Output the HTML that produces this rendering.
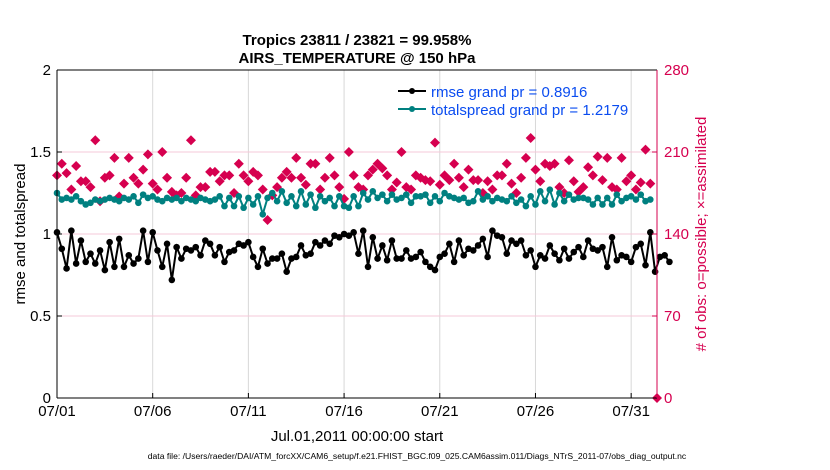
<!DOCTYPE html>
<html><head><meta charset="utf-8"><style>
body{margin:0;background:#fff;}
svg{display:block;font-family:"Liberation Sans",sans-serif;}
</style></head><body>
<svg id="chart" width="830" height="470" viewBox="0 0 830 470">
<text x="357" y="45" text-anchor="middle" font-size="15" font-weight="bold">Tropics 23811 / 23821 = 99.958%</text>
<text x="357" y="63" text-anchor="middle" font-size="15" font-weight="bold">AIRS_TEMPERATURE @ 150 hPa</text>
<g id="grid"></g>
<g id="marks"></g>
<g id="axes"></g>
<text transform="translate(25,234) rotate(-90)" text-anchor="middle" font-size="15">rmse and totalspread</text>
<text transform="translate(706,234) rotate(-90)" text-anchor="middle" font-size="15" fill="#d6004f"># of obs: o=possible; ×=assimilated</text>
<text x="357" y="441" text-anchor="middle" font-size="15">Jul.01,2011 00:00:00 start</text>
<text x="417" y="459" text-anchor="middle" font-size="8.6">data file: /Users/raeder/DAI/ATM_forcXX/CAM6_setup/f.e21.FHIST_BGC.f09_025.CAM6assim.011/Diags_NTrS_2011-07/obs_diag_output.nc</text>
<g>
<line x1="398" y1="91" x2="426" y2="91" stroke="#000" stroke-width="2"/><circle cx="412" cy="91" r="3" fill="#000"/>
<text x="431" y="97" font-size="15" fill="#0a4cf0">rmse grand pr = 0.8916</text>
<line x1="398" y1="109" x2="426" y2="109" stroke="#008080" stroke-width="2"/><circle cx="412" cy="109" r="3" fill="#008080"/>
<text x="431" y="115" font-size="15" fill="#0a4cf0">totalspread grand pr = 1.2179</text>
</g>
</svg>
<script>
const xTickLabels=["07/01","07/06","07/11","07/16","07/21","07/26","07/31"];
const xTickDays=[0,5,10,15,20,25,30];
const yTicks=[0,0.5,1,1.5,2];
const y2Ticks=[0,70,140,210,280];
const rmse=[1.01,0.91,0.79,1.02,0.82,0.96,0.83,0.88,0.82,0.90,0.78,0.95,0.80,0.97,0.80,0.87,0.82,0.85,1.02,0.83,1.01,0.90,0.80,0.94,0.72,0.92,0.85,0.91,0.90,0.92,0.87,0.96,0.94,0.87,0.92,0.83,0.89,0.90,0.94,0.93,0.95,0.86,0.80,0.91,0.82,0.85,0.85,0.88,0.77,0.85,0.86,0.93,0.87,0.88,0.95,0.93,0.96,0.94,0.99,0.98,1.00,0.99,
1.01,0.88,1.02,0.80,0.98,0.85,0.93,0.84,0.96,0.85,0.85,0.90,0.85,0.86,0.89,0.83,0.80,0.78,0.86,0.88,0.94,0.83,0.96,0.87,0.91,0.90,0.93,0.97,0.86,1.02,0.99,0.98,0.88,0.96,0.94,0.96,0.87,0.90,0.80,0.87,0.85,0.93,0.88,0.84,0.91,0.85,0.89,0.92,0.86,0.96,0.91,0.90,0.92,0.80,0.98,0.84,0.87,0.86,0.83,0.92,0.94,0.81,1.01,0.77,0.86,0.87,0.83];
const spread=[1.25,1.21,1.22,1.21,1.23,1.20,1.18,1.19,1.21,1.20,1.21,1.22,1.21,1.20,1.22,1.21,1.23,1.19,1.24,1.22,1.23,1.21,1.20,1.22,1.21,1.22,1.20,1.22,1.21,1.20,1.22,1.21,1.20,1.21,1.23,1.17,1.22,1.17,1.23,1.16,1.22,1.18,1.23,1.12,1.22,1.25,1.20,1.26,1.19,1.23,1.17,1.26,1.18,1.24,1.16,1.23,1.20,1.22,1.17,1.23,1.17,1.16,
1.23,1.17,1.25,1.21,1.26,1.22,1.24,1.20,1.24,1.21,1.22,1.24,1.19,1.23,1.23,1.24,1.19,1.23,1.20,1.25,1.23,1.22,1.21,1.22,1.19,1.20,1.26,1.21,1.23,1.20,1.22,1.21,1.20,1.23,1.19,1.21,1.17,1.23,1.18,1.26,1.20,1.27,1.18,1.25,1.20,1.24,1.21,1.22,1.22,1.21,1.18,1.22,1.18,1.22,1.18,1.24,1.20,1.22,1.23,1.21,1.24,1.20,1.21];
const obsCount=[190,200,192,178,198,185,185,180,220,168,188,190,205,172,183,205,188,183,195,208,183,178,210,188,176,173,175,188,220,173,180,180,193,193,185,190,190,175,200,190,185,193,190,178,152,173,180,188,193,188,205,188,182,200,200,178,188,205,190,180,170,210,190,180,178,190,195,200,196,190,178,184,210,180,178,190,188,186,185,218,182,190,186,200,188,180,195,186,186,175,185,178,190,190,200,183,175,188,205,222,195,185,200,198,200,180,175,203,185,176,180,197,190,206,186,205,180,178,205,185,190,178,184,212,183];

const NS='http://www.w3.org/2000/svg';
const X0=57,X1=657,Y0=398,Y1=70,DMAX=31.35;
const xs=d=>X0+(X1-X0)*d/DMAX;
const ys=v=>Y0-(Y0-Y1)*v/2;
const ys2=v=>Y0-(Y0-Y1)*v/280;
function mk(tag,attrs,parent){const e=document.createElementNS(NS,tag);for(const k in attrs)e.setAttribute(k,attrs[k]);parent.appendChild(e);return e;}
const grid=document.getElementById('grid'),marks=document.getElementById('marks'),axes=document.getElementById('axes');
xTickDays.forEach((d,i)=>{
  const l=mk('line',{x1:xs(d),x2:xs(d),y1:Y1,y2:Y0,stroke:'#d8d8d8','stroke-width':1},grid);
  
  
  mk('line',{x1:xs(d),x2:xs(d),y1:Y0,y2:Y0-5,stroke:'#000'},axes);
  const t=mk('text',{x:xs(d),y:Y0+18,'text-anchor':'middle','font-size':15},axes);
  t.textContent=xTickLabels[i];
  
  
});
y2Ticks.forEach(v=>{
  const l=mk('line',{x1:X0,x2:X1,y1:ys2(v),y2:ys2(v),stroke:'#f6c8d8','stroke-width':1},grid);
  
  
  mk('line',{x1:X1,x2:X1-5,y1:ys2(v),y2:ys2(v),stroke:'#d6004f'},axes);
  const t=mk('text',{x:X1+7,y:ys2(v)+5,'font-size':15,fill:'#d6004f'},axes);
  t.textContent=v;
  
  
});
yTicks.forEach(v=>{
  mk('line',{x1:X0,x2:X0+5,y1:ys(v),y2:ys(v),stroke:'#000'},axes);
  const t=mk('text',{x:X0-6,y:ys(v)+5,'text-anchor':'end','font-size':15},axes);
  t.textContent=String(v);
  
  
});
mk('line',{x1:X0,x2:X0,y1:Y1,y2:Y0,stroke:'#000'},axes);
mk('line',{x1:X0,x2:X1,y1:Y0,y2:Y0,stroke:'#000'},axes);
mk('line',{x1:X0,x2:X1,y1:Y1,y2:Y1,stroke:'#000'},axes);
mk('line',{x1:X1,x2:X1,y1:Y1,y2:Y0,stroke:'#d6004f'},axes);
obsCount.forEach((c,i)=>{
  const x=xs(i*0.25),y=ys2(c);
  const p=mk('polygon',{points:`${x},${y-5} ${x+5},${y} ${x},${y+5} ${x-5},${y}`,fill:'#d6004f'},marks);
  
  
});
const zd=mk('polygon',{points:`${X1},${Y0-5} ${X1+5},${Y0} ${X1},${Y0+5} ${X1-5},${Y0}`,fill:'#d6004f'},marks);


function series(arr,color,name){
  const pts=arr.map((v,i)=>xs(i*0.25)+','+ys(v)).join(' ');
  const pl=mk('polyline',{points:pts,fill:'none',stroke:color,'stroke-width':2},marks);
  
  
  arr.forEach((v,i)=>{
    const c=mk('circle',{cx:xs(i*0.25),cy:ys(v),r:3.3,fill:color},marks);
    
    
  });
}
series(spread,'#008080','totalspread');
series(rmse,'#000000','rmse');
</script>
</body></html>
